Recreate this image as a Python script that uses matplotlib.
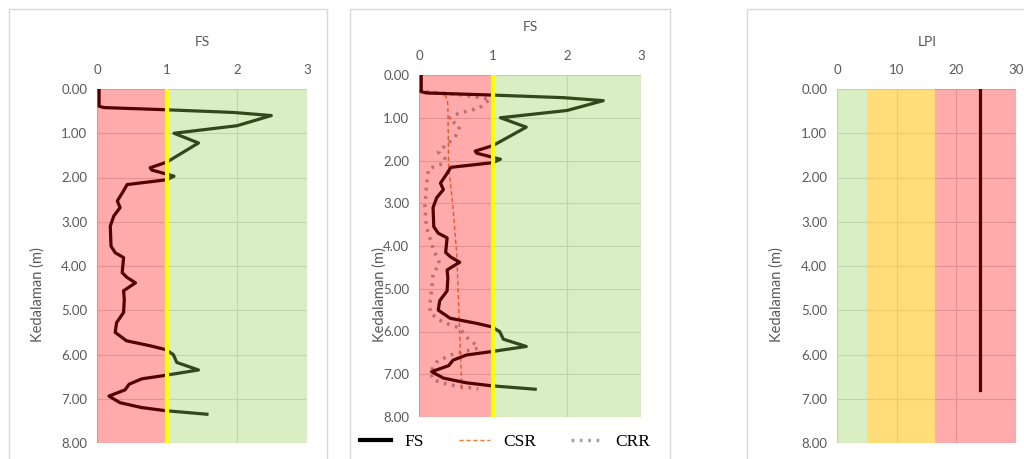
import matplotlib
matplotlib.use("Agg")
import matplotlib.pyplot as plt
from matplotlib.lines import Line2D
from matplotlib.patches import Rectangle

# Factor of safety profile (depth in m, FS)
fs_depth = [0.00, 0.39, 0.42, 0.47, 0.53, 0.60, 0.83, 1.00, 1.22, 1.65, 1.78, 1.83,
            1.97, 2.05, 2.16, 2.30, 2.53, 2.68, 2.87, 3.10, 3.55, 3.70, 3.81, 4.15,
            4.26, 4.38, 4.56, 4.75, 5.05, 5.28, 5.50, 5.69, 5.81, 5.89, 6.00, 6.18,
            6.35, 6.47, 6.55, 6.67, 6.80, 6.94, 7.09, 7.20, 7.27, 7.35]
fs_vals = [0.03, 0.03, 0.10, 1.00, 1.95, 2.49, 2.00, 1.10, 1.45, 1.00, 0.76, 0.78,
           1.10, 1.00, 0.43, 0.38, 0.29, 0.33, 0.24, 0.19, 0.20, 0.26, 0.38, 0.36,
           0.43, 0.55, 0.38, 0.39, 0.38, 0.28, 0.26, 0.42, 0.78, 0.98, 1.09, 1.14,
           1.45, 0.98, 0.64, 0.46, 0.40, 0.17, 0.33, 0.64, 0.98, 1.57]

# Cyclic stress ratio
csr_depth = [0.35, 0.38, 0.42, 0.55, 0.70, 2.15, 3.10, 4.20, 6.05, 7.38]
csr_vals = [0.00, 0.00, 0.32, 0.38, 0.39, 0.40, 0.46, 0.51, 0.55, 0.58]

# Cyclic resistance ratio
crr_depth = [0.35, 0.38, 0.45, 0.56, 0.77, 0.90, 1.02, 1.21, 1.45, 1.80, 1.95, 2.07,
             2.19, 2.60, 3.09, 3.55, 4.06, 4.41, 4.65, 5.04, 5.33, 5.57, 5.78, 5.92,
             6.13, 6.30, 6.39, 6.55, 6.71, 6.95, 7.13, 7.25, 7.34]
crr_vals = [0.00, 0.00, 0.50, 0.96, 0.82, 0.53, 0.40, 0.55, 0.49, 0.26, 0.35, 0.33,
            0.13, 0.10, 0.08, 0.10, 0.19, 0.28, 0.19, 0.17, 0.15, 0.15, 0.32, 0.55,
            0.64, 0.76, 0.80, 0.42, 0.24, 0.15, 0.19, 0.42, 0.80]

# Liquefaction potential index
lpi_depth = [0.00, 6.80]
lpi_vals = [24.0, 24.0]

fs_ticks = [0, 1, 2, 3]
lpi_ticks = [0, 10, 20, 30]
depth_ticks = [0, 1, 2, 3, 4, 5, 6, 7, 8]
lpi_zones = [(0, 5, "#92D050", 0.35), (5, 16.5, "#FFC000", 0.52), (16.5, 30, "#FF0000", 0.33)]

W, H = 1024, 459
GREY = "#595959"
FONT = "Lato"

fig = plt.figure(figsize=(W / 100, H / 100), dpi=100)


def px_axes(left, top, right, bottom):
    return fig.add_axes([left / W, 1 - bottom / H, (right - left) / W, (bottom - top) / H])


def frame(left, right):
    fig.patches.append(Rectangle((left / W, -0.02), (right - left) / W, 1 - 9 / H + 0.02,
                                 transform=fig.transFigure, fill=False,
                                 edgecolor="#d9d9d9", lw=1.0))


def style(ax, xmax, xticks):
    ax.set_xlim(0, xmax)
    ax.set_ylim(8, 0)
    ax.xaxis.tick_top()
    ax.set_xticks(xticks)
    ax.set_yticks(depth_ticks)
    ax.set_yticklabels([f"{d:.2f}" for d in depth_ticks])
    ax.tick_params(length=0, labelcolor=GREY, labelsize=9.5)
    ax.tick_params(axis="x", pad=9)
    ax.tick_params(axis="y", pad=7)
    for lab in ax.get_xticklabels() + ax.get_yticklabels():
        lab.set_family(FONT)
    for s in ax.spines.values():
        s.set_visible(False)
    ax.set_axisbelow(True)
    ax.grid(True, color="#d9d9d9", lw=0.8)


def fs_zones(ax):
    ax.axvspan(0, 1, color="#FF0000", alpha=0.33, lw=0, zorder=3)
    ax.axvspan(1, 3, color="#92D050", alpha=0.35, lw=0, zorder=3)
    ax.axvline(1, color="#FFFF00", lw=3, zorder=4)


for l, r in [(9, 327), (350, 670), (747, 1030)]:
    frame(l, r)

# Panel 1: FS
ax1 = px_axes(97, 89, 307, 443)
style(ax1, 3, fs_ticks)
ax1.plot(fs_vals, fs_depth, color="black", lw=2.3, zorder=2)
fs_zones(ax1)
fig.text(202 / W, 1 - 42 / H, "FS", ha="center", va="center", color=GREY, fontsize=10, family=FONT)
fig.text(38 / W, 1 - 295 / H, "Kedalaman (m)", ha="center", va="center", rotation=90,
         color=GREY, fontsize=10.5, family=FONT)

# Panel 2: FS with CSR and CRR
ax2 = px_axes(419, 75, 641, 417)
style(ax2, 3, fs_ticks)
ax2.plot(crr_vals, crr_depth, color="#A5A5A5", lw=2.5, ls=(0, (0.8, 1.6)), zorder=2)
ax2.plot(csr_vals, csr_depth, color="#ED7D31", lw=1.0, ls=(0, (3, 2)), zorder=2)
ax2.plot(fs_vals, fs_depth, color="black", lw=2.3, zorder=2)
fs_zones(ax2)
fig.text(530 / W, 1 - 27 / H, "FS", ha="center", va="center", color=GREY, fontsize=10, family=FONT)
fig.text(380 / W, 1 - 295 / H, "Kedalaman (m)", ha="center", va="center", rotation=90,
         color=GREY, fontsize=10.5, family=FONT)

handles = [
    Line2D([], [], color="black", lw=3),
    Line2D([], [], color="#ED7D31", lw=1.0, ls=(0, (3, 2))),
    Line2D([], [], color="#A5A5A5", lw=2.5, ls=(0, (0.8, 1.6))),
]
fig.legend(handles, ["FS", "CSR", "CRR"], loc="center", bbox_to_anchor=(505 / W, 1 - 442 / H),
           ncol=3, frameon=False, handlelength=1.8, columnspacing=2.0, handletextpad=0.75,
           borderpad=0.2, prop={"family": "Liberation Serif", "size": 12.5})

# Panel 3: LPI
ax3 = px_axes(837, 89, 1016, 443)
style(ax3, 30, lpi_ticks)
ax3.plot(lpi_vals, lpi_depth, color="black", lw=2.3, zorder=2)
for x0, x1, c, a in lpi_zones:
    ax3.axvspan(x0, x1, color=c, alpha=a, lw=0, zorder=3)
fig.text(927 / W, 1 - 42 / H, "LPI", ha="center", va="center", color=GREY, fontsize=10, family=FONT)
fig.text(777 / W, 1 - 295 / H, "Kedalaman (m)", ha="center", va="center", rotation=90,
         color=GREY, fontsize=10.5, family=FONT)

fig.savefig("out.png", dpi=100)
